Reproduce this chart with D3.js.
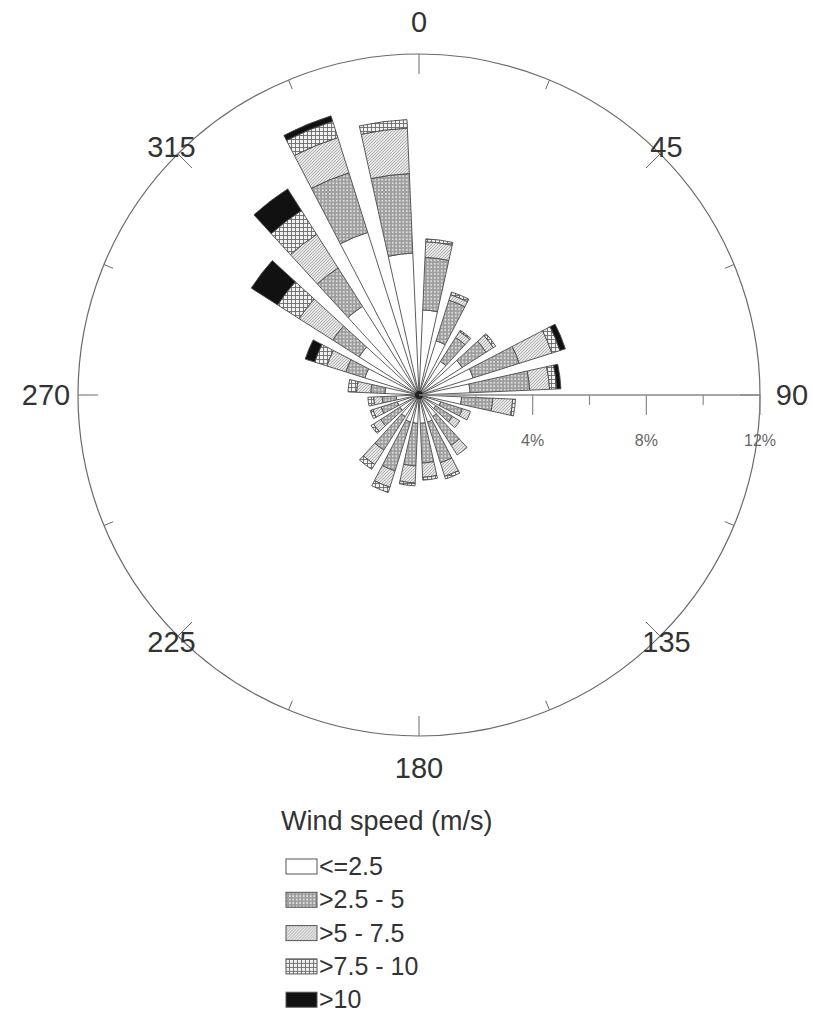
<!DOCTYPE html>
<html>
<head>
<meta charset="utf-8">
<script src="https://cdn.jsdelivr.net/npm/d3@7"></script>
<style>
  body { margin: 0; background: #fff; }
  text { font-family: "Liberation Sans", Arial, sans-serif; fill: #333; }
</style>
</head>
<body>
<script>
'use strict';

// wind direction of each bar (degrees, centre of 15 deg sector)
var directions = [7.5, 22.5, 37.5, 52.5, 67.5, 82.5, 97.5, 112.5, 127.5, 142.5, 157.5, 172.5,
                  187.5, 202.5, 217.5, 232.5, 247.5, 262.5, 277.5, 292.5, 307.5, 322.5, 337.5, 352.5];

// frequency (%) of each speed class per direction
var calm   = [3.0, 2.0, 1.4, 1.8, 2.0, 1.8, 1.5, 0.8, 0.7, 0.9, 1.0, 1.0, 1.0, 1.0, 0.9, 0.8, 0.8, 0.8, 1.2, 2.0, 2.5, 3.7, 6.0, 5.0];
var speed2 = [1.85, 1.5, 1.0, 1.0, 1.7, 2.1, 1.1, 0.8, 0.7, 1.2, 1.5, 1.4, 1.5, 1.8, 1.4, 0.8, 0.6, 0.5, 0.5, 0.7, 1.1, 1.6, 2.2, 2.8];
var speed3 = [0.55, 0.2, 0.25, 0.3, 1.2, 0.7, 0.7, 0.3, 0.3, 0.4, 0.5, 0.5, 0.6, 0.6, 0.6, 0.3, 0.3, 0.3, 0.5, 0.7, 1.4, 1.4, 1.3, 1.6];
var speed4 = [0.1, 0.1, 0.05, 0.1, 0.3, 0.25, 0.1, 0, 0, 0, 0.1, 0.1, 0.1, 0.2, 0.2, 0.1, 0.1, 0.2, 0.3, 0.45, 0.9, 1.0, 0.6, 0.3];
var speed5 = [0, 0, 0, 0, 0.2, 0.15, 0, 0, 0, 0, 0, 0, 0, 0, 0, 0, 0, 0, 0, 0.35, 1.1, 0.9, 0.2, 0];

var speedKeys = ["calm", "speed2", "speed3", "speed4", "speed5"];
var speedLabels = ["<=2.5", ">2.5 - 5", ">5 - 7.5", ">7.5 - 10", ">10"];

var compassLabels = ["0", "45", "90", "135", "180", "225", "270", "315"];
var compassTicks = [0, 22.5, 45, 67.5, 90, 112.5, 135, 157.5, 180, 202.5, 225, 247.5, 270, 292.5, 315, 337.5];
var radialTicks = [2, 4, 6, 8, 10, 12];
var radialLabels = ["4%", "8%", "12%"];

var width = 813, height = 1021;
var cx = 419, cy = 395;
var maxR = 341;

var rows = directions.map(function (dir, i) {
    return { dir: dir, calm: calm[i], speed2: speed2[i], speed3: speed3[i], speed4: speed4[i], speed5: speed5[i] };
});

var r = d3.scaleLinear().domain([0, 12]).range([0, maxR]);
var rad = function (deg) { return deg * Math.PI / 180; };

var svg = d3.select("body").append("svg")
    .attr("width", width)
    .attr("height", height);

// hatch patterns
var defs = svg.append("defs");

var pDot = defs.append("pattern").attr("id", "p-dot")
    .attr("width", 3.5).attr("height", 3.5).attr("patternUnits", "userSpaceOnUse");
pDot.append("rect").attr("width", 3.5).attr("height", 3.5).attr("fill", "#9c9c9c");
pDot.append("circle").attr("cx", 1.75).attr("cy", 1.75).attr("r", 1.05).attr("fill", "#dedede");

var pDiag = defs.append("pattern").attr("id", "p-diag")
    .attr("width", 3).attr("height", 3).attr("patternUnits", "userSpaceOnUse");
pDiag.append("rect").attr("width", 3).attr("height", 3).attr("fill", "#e6e6e6");
pDiag.append("path").attr("d", "M0,3L3,0M-1,1L1,-1M2,4L4,2")
    .attr("stroke", "#a4a4a4").attr("stroke-width", 0.8);

var pCross = defs.append("pattern").attr("id", "p-cross")
    .attr("width", 4).attr("height", 4).attr("patternUnits", "userSpaceOnUse");
pCross.append("rect").attr("width", 4).attr("height", 4).attr("fill", "#f2f2f2");
pCross.append("path").attr("d", "M0,0.5H4M0.5,0V4")
    .attr("stroke", "#6a6a6a").attr("stroke-width", 0.9);

var fills = ["#ffffff", "url(#p-dot)", "url(#p-diag)", "url(#p-cross)", "#111111"];
var color = d3.scaleOrdinal().domain(speedKeys).range(fills);

var g = svg.append("g").attr("transform", "translate(" + cx + "," + cy + ")");

// outer circle and compass ticks
g.append("circle")
    .attr("r", maxR)
    .attr("fill", "none")
    .attr("stroke", "#6a6a6a")
    .attr("stroke-width", 1.2);

g.selectAll(".ctick")
    .data(compassTicks)
    .enter().append("line")
    .attr("class", "ctick")
    .attr("x1", function (d) { return maxR * Math.sin(rad(d)); })
    .attr("y1", function (d) { return -maxR * Math.cos(rad(d)); })
    .attr("x2", function (d) { var len = d % 45 === 0 ? 20 : 10; return (maxR - len) * Math.sin(rad(d)); })
    .attr("y2", function (d) { var len = d % 45 === 0 ? 20 : 10; return -(maxR - len) * Math.cos(rad(d)); })
    .attr("stroke", "#6a6a6a")
    .attr("stroke-width", 1);

g.selectAll(".clabel")
    .data(compassLabels)
    .enter().append("text")
    .attr("class", "clabel")
    .attr("x", function (d) { var R = (+d) % 90 === 0 ? 373 : 350; return R * Math.sin(rad(+d)); })
    .attr("y", function (d) { var R = (+d) % 90 === 0 ? 373 : 350; return -R * Math.cos(rad(+d)); })
    .attr("dy", "0.34em")
    .attr("text-anchor", "middle")
    .style("font-size", "29px")
    .text(function (d) { return d; });

// stacked wind bars
var stack = d3.stack().keys(speedKeys);
var series = stack(rows);

var arc = d3.arc()
    .innerRadius(function (d) { return r(d[0]); })
    .outerRadius(function (d) { return r(d[1]); })
    .startAngle(function (d) { return rad(d.data.dir - 5); })
    .endAngle(function (d) { return rad(d.data.dir + 5); });

g.selectAll(".layer")
    .data(series)
    .enter().append("g")
    .attr("class", "layer")
    .attr("fill", function (d) { return color(d.key); })
    .selectAll("path")
    .data(function (d) { return d.filter(function (s) { return s[1] - s[0] > 0; }); })
    .enter().append("path")
    .attr("d", arc)
    .attr("stroke", "#4a4a4a")
    .attr("stroke-width", 0.9);

// dark hub where the bar edges meet
g.append("circle")
    .attr("r", 4)
    .attr("fill", "#222");

// radial axis along 90 deg
g.append("line")
    .attr("x1", 0).attr("y1", 0)
    .attr("x2", r(12)).attr("y2", 0)
    .attr("stroke", "#8a8a8a")
    .attr("stroke-width", 1.4);

g.selectAll(".rtick")
    .data(radialTicks)
    .enter().append("line")
    .attr("class", "rtick")
    .attr("x1", function (d) { return r(d); })
    .attr("x2", function (d) { return r(d); })
    .attr("y1", 0)
    .attr("y2", function (d) { return d % 4 === 0 ? 20 : 10; })
    .attr("stroke", "#8a8a8a")
    .attr("stroke-width", 1.2);

g.selectAll(".rlabel")
    .data(radialLabels)
    .enter().append("text")
    .attr("class", "rlabel")
    .attr("x", function (d) { return r(parseFloat(d)); })
    .attr("y", 51)
    .attr("text-anchor", "middle")
    .style("font-size", "16px")
    .style("fill", "#666")
    .text(function (d) { return d; });

// legend
var legend = svg.append("g").attr("transform", "translate(281,0)");

legend.append("text")
    .attr("x", 0)
    .attr("y", 830)
    .style("font-size", "27px")
    .text("Wind speed (m/s)");

var item = legend.selectAll(".item")
    .data(speedKeys)
    .enter().append("g")
    .attr("class", "item")
    .attr("transform", function (d, i) { return "translate(0," + (875 + i * 33.3) + ")"; });

item.append("rect")
    .attr("x", 5)
    .attr("y", -16)
    .attr("width", 31)
    .attr("height", 15)
    .attr("fill", function (d) { return color(d); })
    .attr("stroke", "#555")
    .attr("stroke-width", 1);

item.append("text")
    .attr("x", 38)
    .attr("y", 0)
    .style("font-size", "25px")
    .text(function (d, i) { return speedLabels[i]; });
</script>
</body>
</html>
